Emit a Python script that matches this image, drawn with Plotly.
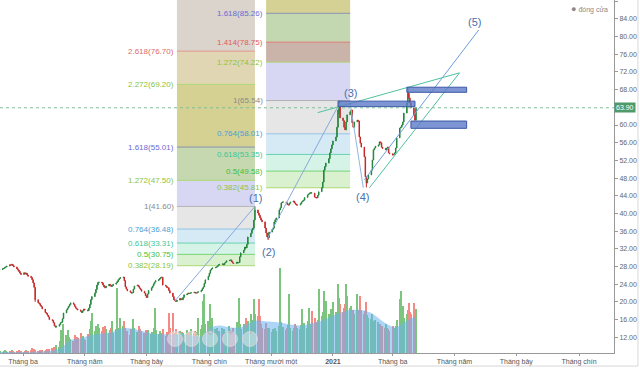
import pandas as pd
import plotly.graph_objects as go

# ---------------- data ----------------
start_date = "2020-02-07"

close = [
    27.3, 27.5, 27.6, 27.8, 27.9, 28.1, 28.4, 28.3, 28.5, 28.2,
    27.9, 27.5, 27.2, 26.9, 26.5, 26.2, 26.6, 26.3, 26.5, 26.1,
    25.8, 25.5, 25.0, 24.3, 23.3, 20.5, 19.8, 19.6, 19.2, 18.9,
    18.4, 17.6, 17.4, 17.0, 16.6, 16.0, 15.8, 15.3, 14.6, 14.3,
    14.5, 14.9, 15.3, 15.4, 16.2, 17.5, 18.2, 18.6, 19.0, 19.4,
    19.8, 19.5, 19.0, 18.6, 18.4, 18.2, 17.9, 17.6, 18.0, 18.4,
    18.2, 18.0, 18.6, 19.4, 20.5, 21.2, 22.0, 22.8, 23.8, 24.4,
    24.5, 24.3, 23.8, 23.4, 23.2, 23.6, 24.0, 23.8, 23.5, 23.7,
    24.0, 24.3, 24.6, 25.0, 25.3, 25.5, 25.6, 24.8, 23.4, 22.9,
    22.5, 22.2, 22.0, 22.1, 22.9, 23.6, 23.8, 23.5, 23.1, 22.8,
    22.4, 22.0, 21.4, 21.0, 21.8, 22.6, 23.2, 23.6, 24.1, 24.5,
    24.8, 25.0, 25.3, 25.5, 25.6, 23.8, 23.6, 23.3, 23.2, 22.6,
    22.0, 21.2, 20.5, 20.3, 20.1, 20.4, 20.8, 20.6, 20.5, 21.0,
    21.6, 21.8, 22.0, 21.9, 22.0, 22.1, 22.2, 22.0, 22.0, 22.2,
    22.3, 22.6, 23.0, 23.4, 24.2, 25.0, 25.8, 26.5, 27.2, 27.5,
    27.7, 27.8, 27.9, 28.1, 28.4, 28.5, 28.6, 28.4, 28.8, 29.0,
    29.3, 29.4, 29.5, 29.1, 28.8, 28.7, 29.0, 28.8, 28.9, 30.2,
    31.1, 31.7, 32.4, 32.2, 33.0, 34.7, 35.5, 36.3, 36.7, 38.5,
    40.8, 40.1, 39.6, 39.0, 38.5, 38.1, 36.7, 35.6, 34.7, 34.5,
    35.8, 36.4, 36.7, 38.1, 38.6, 39.0, 40.8, 41.3, 42.4, 42.6,
    42.6, 42.4, 42.0, 41.9, 42.3, 42.6, 42.8, 42.4, 42.1, 41.9,
    41.9, 42.2, 42.6, 42.8, 43.0, 43.6, 44.2, 44.4, 44.6, 44.7,
    44.6, 43.7, 43.6, 43.5, 44.1, 44.9, 45.8, 47.1, 49.8, 50.6,
    51.4, 52.4, 53.7, 54.6, 55.5, 56.4, 57.3, 59.5, 63.4, 64.1,
    61.6, 61.0, 59.5, 58.9, 60.7, 62.3, 63.0, 63.4, 60.5, 59.5,
    60.7, 61.1, 60.9, 57.3, 55.9, 55.0, 52.8, 48.3, 46.9, 47.8,
    48.7, 49.8, 52.1, 54.4, 54.8, 55.2, 55.5, 56.2, 56.0, 55.0,
    54.7, 54.4, 54.8, 55.0, 53.7, 53.5, 53.2, 53.4, 53.7, 54.8,
    57.1, 59.3, 59.5, 60.0, 60.7, 62.7, 65.0, 67.2, 66.1, 65.0,
    63.9, 62.3, 61.1, 63.9,
]
first_open = 27.2

# a few notable candle extremes (index, high, low)
wick_idx = [25, 180, 189, 239, 258, 287]
wick_high = [23.3, 41.6, 35.6, 65.5, 48.3, 68.4]
wick_low = [20.0, 38.5, 34.0, 62.5, 45.9, 65.0]

# volume, millions of shares
volume = [
    0.2, 0.1, 0.2, 0.3, 0.2, 0.1, 0.2, 0.2, 0.3, 0.2,
    0.1, 0.2, 0.2, 0.3, 0.2, 0.2, 0.1, 0.2, 0.3, 0.2,
    0.2, 0.3, 0.5, 0.3, 0.4, 0.3, 0.2, 0.2, 0.3, 0.2,
    0.3, 0.2, 0.3, 0.4, 0.3, 0.4, 0.5, 0.4, 0.6,
    0.5, 0.8, 0.6, 1.2, 2.3, 1.5, 3.0, 1.8, 1.2, 2.3, 1.6,
    1.4, 1.2, 1.8, 1.3, 1.6, 1.5, 2.0, 1.2, 1.7, 1.4,
    1.3, 1.9, 1.5, 2.4, 3.3, 4.1, 2.2, 2.8, 2.6, 3.0,
    2.5, 2.2, 2.7, 1.9, 2.8, 2.4, 2.0, 2.3, 2.6, 3.3,
    2.0, 2.4, 6.6, 2.5, 2.2, 3.6, 2.8, 3.3, 2.5, 2.0,
    2.2, 1.8, 2.4, 2.0, 3.5, 2.6, 2.1, 1.9, 2.8, 2.4,
    2.2, 2.0, 1.8, 2.3, 1.7, 2.3, 1.9, 2.1, 2.5, 4.6,
    2.3, 1.9, 2.2, 1.8, 2.0, 2.4, 1.7, 2.1, 1.9, 4.1,
    2.5, 4.1, 2.0, 1.8, 2.4, 1.9, 2.2, 1.7, 2.1, 2.0,
    1.6, 2.3, 1.9, 2.1, 1.8, 2.4, 2.0, 2.2, 1.9, 2.1,
    3.6, 2.4, 2.9, 5.3, 6.0, 3.0, 3.3, 2.1, 5.0, 2.8,
    3.6, 2.4, 2.0, 2.6, 1.8, 2.2, 2.6, 1.9, 2.4, 2.1,
    2.0, 2.8, 2.3, 2.2, 2.6, 2.0, 3.2, 2.8, 5.6, 3.0,
    2.4, 3.0, 2.2, 3.6, 2.6, 3.3, 4.0, 2.8, 3.4, 5.5,
    4.0, 3.8, 5.5, 3.8, 3.0, 2.6, 2.4, 3.1, 2.6, 2.2,
    2.6, 2.1, 2.4, 2.0, 2.5, 2.2, 2.8, 8.7, 3.2, 2.4,
    2.7, 2.3, 2.6, 2.9, 6.0, 2.6, 2.2, 2.5, 3.0, 2.8,
    2.6, 2.4, 2.9, 4.5, 2.7, 3.1, 2.5, 3.3, 4.6, 3.0,
    4.3, 3.6, 3.2, 2.9, 3.4, 6.5, 3.8, 4.2, 6.3, 3.9,
    5.3, 4.0, 3.6, 4.5, 4.0, 5.2, 4.2, 3.8, 7.0, 5.6,
    5.0, 4.2, 4.6, 5.0, 7.0, 5.8, 4.6, 4.8, 4.0, 4.4,
    4.0, 6.0, 4.4, 3.8, 5.8, 4.4, 4.0, 4.3, 5.2, 3.9,
    3.6, 3.5, 4.0, 3.3, 3.0, 3.4, 3.2, 2.8, 3.0, 2.6,
    2.8, 2.5, 3.0, 2.6, 2.4, 2.2, 2.8, 2.5, 2.3, 2.8,
    3.4, 5.5, 6.3, 3.8, 4.8, 3.6, 4.0, 4.4, 5.1, 4.2,
    4.0, 5.1, 3.6, 4.5,
]

# smoothed volume average (trading-day index, value)
vol_avg_idx = [0, 28, 39, 42, 46, 49, 56, 63, 71, 78, 85, 92, 99, 106, 113, 120,
               127, 134, 141, 148, 155, 162, 169, 180, 190, 197, 205, 212, 219,
               226, 233, 240, 247, 254, 257, 262, 268, 275, 279, 282, 289, 293]
vol_avg_val = [0.1, 0.15, 0.3, 0.5, 1.0, 1.3, 1.5, 1.8, 2.0, 2.1, 2.5, 2.5, 2.3,
               2.0, 1.9, 1.9, 1.9, 1.8, 1.7, 2.6, 2.8, 2.6, 2.6, 3.3, 3.2, 3.1,
               2.9, 2.8, 3.0, 3.3, 3.7, 4.1, 4.4, 4.4, 4.3, 4.0, 3.4, 2.8, 2.6,
               2.9, 3.5, 3.7]

# Fibonacci extension boxes
fib1_ratio = ["0.382", "0.5", "0.618", "0.764", "1", "1.272", "1.618", "2.272", "2.618"]
fib1_value = [28.19, 30.75, 33.31, 36.48, 41.60, 47.50, 55.01, 69.20, 76.70]
fib1_span = ("2020-07-31", "2020-10-16")

fib2_ratio = ["0.382", "0.5", "0.618", "0.764", "1", "1.272", "1.414", "1.618"]
fib2_value = [45.81, 49.58, 53.35, 58.01, 65.54, 74.22, 78.75, 85.26]
fib2_span = ("2020-10-27", "2021-01-18")

# Elliott wave labels
wave_text = ["(1)", "(2)", "(3)", "(4)", "(5)"]
wave_date = ["2020-10-17", "2020-10-29", "2021-01-18", "2021-01-30", "2021-05-21"]
wave_value = [43.5, 31.3, 67.2, 43.7, 83.3]

# drawn trend lines: (date0, value0, date1, value1, colour)
trend_lines = [
    ("2020-07-29", 20.2, "2020-10-16", 41.6, "#86a9d8"),
    ("2020-10-28", 34.2, "2021-01-09", 65.5, "#86a9d8"),
    ("2021-01-18", 65.0, "2021-01-31", 45.8, "#8fb6e2"),
    ("2021-02-01", 47.6, "2021-05-25", 81.5, "#6d9ee0"),
    ("2021-02-06", 45.8, "2021-05-06", 71.8, "#4fc2a0"),
    ("2020-12-17", 62.8, "2021-05-06", 71.8, "#4fc2a0"),
]

# price zones: (date0, date1, low, high)
zones = [
    ("2021-01-06", "2021-03-23", 64.15, 65.4),
    ("2021-03-15", "2021-05-13", 67.4, 68.55),
    ("2021-03-19", "2021-05-13", 59.25, 60.9),
]

last_close = 63.90

x_tick_dates = ["2020-03-01", "2020-05-01", "2020-07-01", "2020-09-01", "2020-11-01",
                "2021-01-01", "2021-03-01", "2021-05-01", "2021-07-01", "2021-09-01"]
x_tick_text = ["Tháng ba", "Tháng năm", "Tháng bảy", "Tháng chín", "Tháng mười một",
               "<b>2021</b>", "Tháng ba", "Tháng năm", "Tháng bảy", "Tháng chín"]
# 64.00 sits under the last-price tag in the reference, so it is not shown
y_tick_vals = [12, 16, 20, 24, 28, 32, 36, 40, 44, 48, 52, 56, 60, 68, 72, 76, 80, 84, 88]

# ---------------- styling ----------------
FONT = "Liberation Sans, Arial, sans-serif"
level_line = {"0.382": "#acd873", "0.5": "#76d476", "0.618": "#66d3ae", "0.764": "#92c4e4",
              "1": "#b2b2b2", "1.272": "#acd873", "1.414": "#e07d7d", "1.618": "#8a92b2",
              "2.272": "#acd873", "2.618": "#e29484"}
level_text = {"0.382": "#8cc43c", "0.5": "#3bbf3b", "0.618": "#3cc79a", "0.764": "#4a9fd6",
              "1": "#8a8a8a", "1.272": "#8cc43c", "1.414": "#e05a5a", "1.618": "#6b6bd6",
              "2.272": "#8cc43c", "2.618": "#e06a6a"}
band1 = {"0.382": "#daf1d0", "0.5": "#d5f3e7", "0.618": "#d5eaf5", "0.764": "#e6e6e6",
         "1": "#d7d7f4", "1.272": "#c5d8af", "1.618": "#d5d193", "2.272": "#e1d6b3",
         "2.618": "#dbd4cc"}
band2 = {"0.382": "#daf1d0", "0.5": "#d5f3e7", "0.618": "#d5eaf5", "0.764": "#e6e6e6",
         "1": "#d7d7f4", "1.272": "#cab4a9", "1.414": "#c3d8b1", "1.618": "#d5d195"}

# ---------------- build ----------------
n = min(len(close), len(volume))
close = close[:n]
volume = volume[:n]
dates = pd.bdate_range(start=start_date, periods=n)
opens = [first_open] + close[:-1]
highs = [max(o, c) for o, c in zip(opens, close)]
lows = [min(o, c) for o, c in zip(opens, close)]
for i, h, l in zip(wick_idx, wick_high, wick_low):
    if i < n:
        highs[i] = max(highs[i], h)
        lows[i] = min(lows[i], l)
vol_colors = ["#7cc57f" if c >= o else "#f48a84" for o, c in zip(opens, close)]

fig = go.Figure()

fig.add_trace(go.Bar(
    x=dates, y=volume, yaxis="y", marker=dict(color=vol_colors, line=dict(width=0)),
    width=86400000 * 1.3, hoverinfo="skip", showlegend=False))

avg_pairs = [(dates[i], v) for i, v in zip(vol_avg_idx, vol_avg_val) if i < n]
fig.add_trace(go.Scatter(
    x=[p[0] for p in avg_pairs], y=[p[1] for p in avg_pairs],
    yaxis="y", mode="lines", line=dict(width=0, shape="spline", smoothing=0.8),
    fill="tozeroy", fillcolor="rgba(105,178,240,0.55)", hoverinfo="skip", showlegend=False))

fig.add_trace(go.Candlestick(
    x=dates, open=opens, high=highs, low=lows, close=close, yaxis="y2",
    increasing=dict(line=dict(color="#23843b", width=1), fillcolor="#2f9a4b"),
    decreasing=dict(line=dict(color="#c62828", width=1), fillcolor="#d23a3a"),
    whiskerwidth=0, showlegend=False, hoverinfo="skip"))

shapes = []
annotations = []


def fib_box(ratios, values, span, bands):
    x0, x1 = span
    tops = values[1:] + [95]
    for r, v, t in zip(ratios, values, tops):
        shapes.append(dict(type="rect", xref="x", yref="y2", x0=x0, x1=x1, y0=v, y1=t,
                           fillcolor=bands[r], line=dict(width=0), layer="below"))
    for r, v in zip(ratios, values):
        shapes.append(dict(type="line", xref="x", yref="y2", x0=x0, x1=x1, y0=v, y1=v,
                           line=dict(color=level_line[r], width=1), layer="below"))
        annotations.append(dict(x=x0, y=v, xref="x", yref="y2", xanchor="right",
                                yanchor="middle", xshift=-1, showarrow=False,
                                text=f"{r}({v:.2f})",
                                font=dict(family=FONT, size=8, color=level_text[r])))


fib_box(fib1_ratio, fib1_value, fib1_span, band1)
fib_box(fib2_ratio, fib2_value, fib2_span, band2)

for d0, v0, d1, v1, col in trend_lines:
    shapes.append(dict(type="line", xref="x", yref="y2", x0=d0, y0=v0, x1=d1, y1=v1,
                       line=dict(color=col, width=1)))

for d0, d1, lo, hi in zones:
    shapes.append(dict(type="rect", xref="x", yref="y2", x0=d0, x1=d1, y0=lo, y1=hi,
                       fillcolor="rgba(92,122,200,0.8)", line=dict(color="#3d58a8", width=1)))

# last price dotted line
shapes.append(dict(type="line", xref="paper", yref="y2", x0=0, x1=1, y0=last_close,
                   y1=last_close, line=dict(color="#7fbf9a", width=1, dash="dot")))

# outer frame lines
shapes.append(dict(type="line", xref="paper", yref="paper", x0=1.039, x1=1.039,
                   y0=-0.037, y1=1.05, line=dict(color="#d8d8d8", width=1)))
shapes.append(dict(type="line", xref="paper", yref="paper", x0=-0.01, x1=1.039,
                   y0=-0.037, y1=-0.037, line=dict(color="#d8d8d8", width=1)))

# navigation buttons over the volume area
nav_px = [175, 191.5, 210, 230, 250]
nav_icons = ["‹", "⊥", "↻", "+", "›"]
for px, ic in zip(nav_px, nav_icons):
    cx = px / 614.0
    cy = (353 - 339) / 353.0
    shapes.append(dict(type="circle", xref="paper", yref="paper",
                       x0=cx - 7.5 / 614, x1=cx + 7.5 / 614, y0=cy - 7.5 / 353, y1=cy + 7.5 / 353,
                       fillcolor="rgba(245,245,245,0.45)", line=dict(color="rgba(215,215,215,0.8)", width=1)))
    annotations.append(dict(x=cx, y=cy, xref="paper", yref="paper", showarrow=False,
                            text=ic, font=dict(family="DejaVu Sans", size=8, color="rgba(175,175,175,0.9)")))

for t, d, v in zip(wave_text, wave_date, wave_value):
    annotations.append(dict(x=d, y=v, xref="x", yref="y2", showarrow=False, text=t,
                            font=dict(family=FONT, size=11, color="#4a70aa")))

# last price tag
annotations.append(dict(x=1, y=last_close, xref="paper", yref="y2", xanchor="left",
                        yanchor="middle", showarrow=False, text=f"{last_close:.2f}",
                        bgcolor="#4f9a68", borderpad=1,
                        font=dict(family=FONT, size=7, color="white")))

# legend-like label
annotations.append(dict(x=0.993, y=0.975, xref="paper", yref="paper", xanchor="right",
                        yanchor="middle", showarrow=False,
                        text='<span style="color:#8a8a8a;font-size:9px">●</span> đóng cửa',
                        font=dict(family=FONT, size=7, color="#8a8a8a")))

fig.update_layout(
    width=640, height=368,
    margin=dict(l=0, r=26, t=0, b=15),
    paper_bgcolor="white", plot_bgcolor="white",
    showlegend=False,
    shapes=shapes, annotations=annotations,
    bargap=0,
    xaxis=dict(type="date", range=["2020-02-07 07:00", "2021-10-05 12:00"],
               tickvals=x_tick_dates, ticktext=x_tick_text,
               tickfont=dict(family=FONT, size=7, color="#555"),
               showgrid=False, zeroline=False, showline=True, linecolor="#999",
               linewidth=1, ticks="outside", ticklen=2, tickcolor="#999",
               rangeslider=dict(visible=False), automargin=False, fixedrange=True),
    yaxis=dict(range=[0, 36], visible=False, showgrid=False, fixedrange=True),
    yaxis2=dict(overlaying="y", side="right", range=[8.45, 88.27],
                tickvals=y_tick_vals, tickformat=".2f",
                tickfont=dict(family=FONT, size=7, color="#666"),
                showgrid=False, zeroline=False, showline=True, linecolor="#999",
                linewidth=1, ticks="outside", ticklen=3, tickcolor="#999",
                automargin=False, fixedrange=True),
)

fig.write_html("out.html", config={"displayModeBar": False},
               post_script="document.body.style.margin='0';document.body.style.overflow='hidden';")
